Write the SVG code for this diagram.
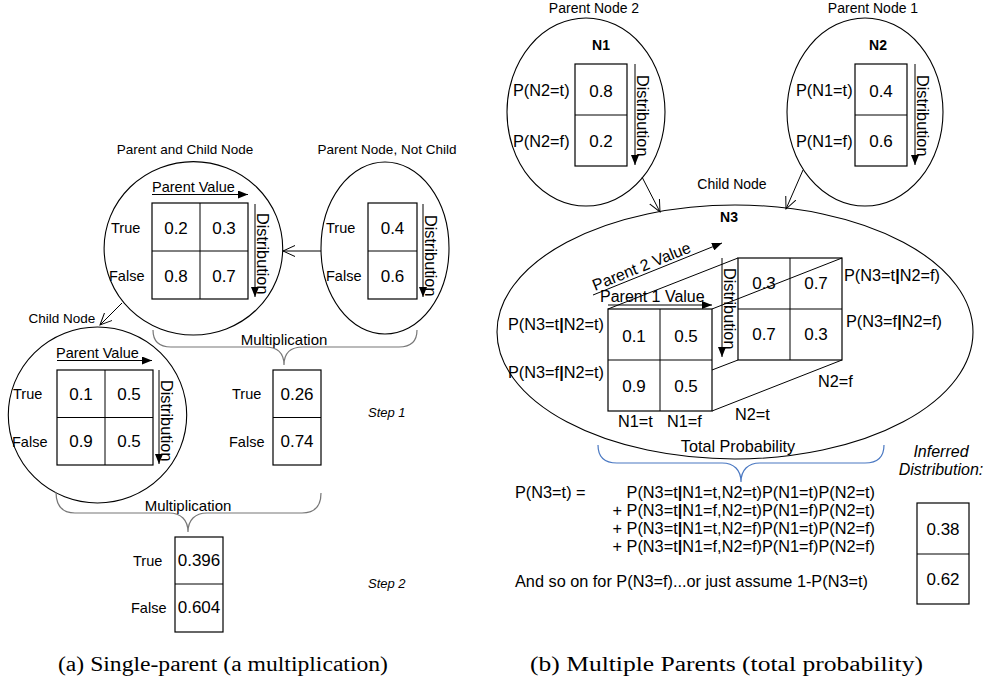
<svg xmlns="http://www.w3.org/2000/svg" width="984" height="695" viewBox="0 0 984 695">
  <style>
    text { font-family: "Liberation Sans", Arial, sans-serif; fill: #000; }
    .ln { fill: none; stroke: #000; stroke-width: 1; }
    .node { fill: none; stroke: #000; stroke-width: 1.1; }
    .cell { fill: none; stroke: #000; stroke-width: 1.2; }
    .num { font-size: 17px; text-anchor: middle; }
    .lbl { font-size: 14.5px; }
    .head { font-size: 13.5px; text-anchor: middle; }
    .pl { font-size: 16.3px; }
    .dist { font-size: 16.3px; }
    .bold { font-weight: bold; }
    .step { font-size: 13px; font-style: italic; }
    .cap { font-family: "Liberation Serif", "Times New Roman", serif; font-size: 20px; }
    .brace { fill: none; stroke: #777; stroke-width: 1.2; }
    .brace.blue { stroke: #4a78c2; }
    .arr { fill: none; stroke: #000; stroke-width: 1; marker-end: url(#tri); }
    .link { fill: none; stroke: #000; stroke-width: 1; marker-end: url(#vee); }
  </style>
  <defs>
    <marker id="tri" markerUnits="userSpaceOnUse" markerWidth="11" markerHeight="8" refX="10" refY="4" orient="auto">
      <path d="M0,0 L10,4 L0,8 z" fill="#000"/>
    </marker>
    <marker id="vee" markerUnits="userSpaceOnUse" markerWidth="14" markerHeight="14" refX="12" refY="7" orient="auto">
      <path d="M0,1.5 L12,7 L0,12.5" fill="none" stroke="#000" stroke-width="1"/>
    </marker>
  </defs>
  <rect width="984" height="695" fill="#fff"/>

  <!-- ===== (a) single parent ===== -->
  <g id="node-parent-child">
    <text class="head" x="185" y="154">Parent and Child Node</text>
    <ellipse class="node" cx="193.4" cy="248.3" rx="89.3" ry="86.7"/>
    <text class="lbl" x="152" y="192">Parent Value</text>
    <line class="arr" x1="152" y1="194.5" x2="248" y2="194.5"/>
    <rect class="cell" x="152" y="203" width="96" height="96"/>
    <line class="ln" x1="200" y1="203" x2="200" y2="299"/>
    <line class="ln" x1="152" y1="251" x2="248" y2="251"/>
    <text class="num" x="176" y="234">0.2</text>
    <text class="num" x="224" y="234">0.3</text>
    <text class="num" x="176" y="282">0.8</text>
    <text class="num" x="224" y="282">0.7</text>
    <text class="lbl" x="111" y="233">True</text>
    <text class="lbl" x="109" y="281">False</text>
    <line class="arr" x1="255" y1="204" x2="255" y2="297"/>
    <text class="dist" transform="translate(256.5,213) rotate(90)">Distribution</text>
  </g>

  <g id="node-parent">
    <text class="head" x="387" y="154">Parent Node, Not Child</text>
    <ellipse class="node" cx="385" cy="248" rx="64" ry="86"/>
    <rect class="cell" x="368" y="203" width="49" height="96"/>
    <line class="ln" x1="368" y1="251" x2="417" y2="251"/>
    <text class="num" x="392.5" y="234">0.4</text>
    <text class="num" x="392.5" y="282">0.6</text>
    <text class="lbl" x="326" y="233">True</text>
    <text class="lbl" x="326" y="281">False</text>
    <line class="arr" x1="423" y1="204" x2="423" y2="297"/>
    <text class="dist" transform="translate(424.5,215) rotate(90)">Distribution</text>
  </g>

  <g id="node-child">
    <text class="head" x="62" y="323">Child Node</text>
    <ellipse class="node" cx="97.5" cy="415" rx="89.2" ry="88"/>
    <text class="lbl" x="56" y="358">Parent Value</text>
    <line class="arr" x1="57" y1="360.5" x2="152" y2="360.5"/>
    <rect class="cell" x="57" y="370" width="96" height="95"/>
    <line class="ln" x1="105" y1="370" x2="105" y2="465"/>
    <line class="ln" x1="57" y1="417.5" x2="153" y2="417.5"/>
    <text class="num" x="81" y="400">0.1</text>
    <text class="num" x="129" y="400">0.5</text>
    <text class="num" x="81" y="447">0.9</text>
    <text class="num" x="129" y="447">0.5</text>
    <text class="lbl" x="13" y="399">True</text>
    <text class="lbl" x="12" y="447">False</text>
    <line class="arr" x1="159" y1="370" x2="159" y2="464"/>
    <text class="dist" transform="translate(160.5,380) rotate(90)">Distribution</text>
  </g>

  <g id="step1-result">
    <rect class="cell" x="273" y="370" width="48" height="95"/>
    <line class="ln" x1="273" y1="417.5" x2="321" y2="417.5"/>
    <text class="num" x="297" y="400">0.26</text>
    <text class="num" x="297" y="447">0.74</text>
    <text class="lbl" x="232" y="399">True</text>
    <text class="lbl" x="229" y="447">False</text>
    <text class="step" x="368" y="417">Step 1</text>
  </g>

  <g id="step2-result">
    <rect class="cell" x="175" y="537" width="48" height="95"/>
    <line class="ln" x1="175" y1="584" x2="223" y2="584"/>
    <text class="num" x="199" y="566">0.396</text>
    <text class="num" x="199" y="613">0.604</text>
    <text class="lbl" x="133" y="566">True</text>
    <text class="lbl" x="131" y="613">False</text>
    <text class="step" x="368" y="588">Step 2</text>
  </g>

  <g id="braces">
    <path class="brace" d="M153,330 C153,341 159,347 171,347 L265,347 C277,347 284,353 284,365 C284,353 291,347 303,347 L399,347 C411,347 417,341 417,330"/>
    <text class="lbl" x="284" y="345" text-anchor="middle" style="font-size:15px">Multiplication</text>
    <path class="brace" d="M56,492 C56,506 62,513 75,513 L169,513 C181,513 188,520 188,532 C188,520 195,513 207,513 L302,513 C315,513 321,506 321,493"/>
    <text class="lbl" x="188" y="511" text-anchor="middle" style="font-size:15px">Multiplication</text>
    <path class="brace blue" d="M598,445 C598,457 604,463 617,463 L722,463 C734,463 741,470 741,482 C741,470 748,463 760,463 L865,463 C878,463 884,457 884,445"/>
    <text x="738" y="452" text-anchor="middle" style="font-size:16.2px">Total Probability</text>
  </g>

  <!-- ===== (b) multiple parents ===== -->
  <g id="node-n1">
    <text class="head" x="594" y="13" style="font-size:14px">Parent Node 2</text>
    <ellipse class="node" cx="586" cy="112" rx="79" ry="94"/>
    <text class="bold" x="601" y="50" text-anchor="middle" style="font-size:14px">N1</text>
    <rect class="cell" x="575" y="64" width="52" height="102"/>
    <line class="ln" x1="575" y1="115" x2="627" y2="115"/>
    <text class="num" x="601" y="97">0.8</text>
    <text class="num" x="601" y="147">0.2</text>
    <text class="pl" x="513" y="96">P(N2=t)</text>
    <text class="pl" x="513" y="147">P(N2=f)</text>
    <line class="arr" x1="635" y1="64" x2="635" y2="165"/>
    <text class="dist" transform="translate(636.5,75) rotate(90)">Distribution</text>
  </g>

  <g id="node-n2">
    <text class="head" x="873" y="13" style="font-size:14px">Parent Node 1</text>
    <ellipse class="node" cx="865" cy="112" rx="78" ry="94"/>
    <text class="bold" x="878" y="50" text-anchor="middle" style="font-size:14px">N2</text>
    <rect class="cell" x="855" y="64" width="52" height="102"/>
    <line class="ln" x1="855" y1="115" x2="907" y2="115"/>
    <text class="num" x="881" y="97">0.4</text>
    <text class="num" x="881" y="147">0.6</text>
    <text class="pl" x="796" y="96">P(N1=t)</text>
    <text class="pl" x="796" y="147">P(N1=f)</text>
    <line class="arr" x1="915" y1="64" x2="915" y2="165"/>
    <text class="dist" transform="translate(916.5,75) rotate(90)">Distribution</text>
  </g>

  <g id="node-n3">
    <text class="head" x="732" y="189" style="font-size:14px">Child Node</text>
    <ellipse class="node" cx="735" cy="332" rx="238" ry="127"/>
    <text class="bold" x="729" y="222" text-anchor="middle" style="font-size:14px">N3</text>
    <!-- back slice: N2=f -->
    <rect class="cell" x="738" y="258" width="104" height="102"/>
    <line class="ln" x1="790" y1="258" x2="790" y2="360"/>
    <line class="ln" x1="738" y1="309" x2="842" y2="309"/>
    <text class="num" x="764" y="289">0.3</text>
    <text class="num" x="816" y="289">0.7</text>
    <text class="num" x="764" y="340">0.7</text>
    <text class="num" x="816" y="340">0.3</text>
    <!-- front slice: N2=t -->
    <rect x="608" y="309" width="104" height="102" fill="#fff"/>
    <rect class="cell" x="608" y="309" width="104" height="102"/>
    <line class="ln" x1="660" y1="309" x2="660" y2="411"/>
    <line class="ln" x1="608" y1="360" x2="712" y2="360"/>
    <text class="num" x="634" y="342">0.1</text>
    <text class="num" x="686" y="342">0.5</text>
    <text class="num" x="634" y="392">0.9</text>
    <text class="num" x="686" y="392">0.5</text>
    <!-- depth edges -->
    <line class="ln" x1="608" y1="309" x2="738" y2="258"/>
    <line class="ln" x1="712" y1="309" x2="842" y2="258"/>
    <line class="ln" x1="712" y1="411" x2="842" y2="360"/>
    <line class="ln" x1="712" y1="370" x2="738" y2="360"/>
    <!-- axis labels -->
    <text class="pl" x="600" y="302" style="font-size:16px">Parent 1 Value</text>
    <line class="arr" x1="608" y1="305" x2="712" y2="305"/>
    <text class="pl" transform="translate(595,291) rotate(-22)" style="font-size:16px">Parent 2 Value</text>
    <line class="arr" x1="593" y1="295" x2="722" y2="243"/>
    <line class="arr" x1="722" y1="258" x2="722" y2="357"/>
    <text class="dist" transform="translate(723.5,268) rotate(90)">Distribution</text>
    <text class="pl" x="508" y="330">P(N3=t<tspan class="bold">|</tspan>N2=t)</text>
    <text class="pl" x="508" y="378">P(N3=f<tspan class="bold">|</tspan>N2=t)</text>
    <text class="pl" x="844" y="281">P(N3=t<tspan class="bold">|</tspan>N2=f)</text>
    <text class="pl" x="846" y="327">P(N3=f<tspan class="bold">|</tspan>N2=f)</text>
    <text class="pl" x="618" y="427">N1=t</text>
    <text class="pl" x="667" y="427">N1=f</text>
    <text class="pl" x="735" y="420">N2=t</text>
    <text class="pl" x="818" y="387">N2=f</text>
  </g>

  <g id="formula">
    <text class="pl" x="515" y="498">P(N3=t) =</text>
    <text class="pl" x="875" y="498" text-anchor="end">P(N3=t<tspan class="bold">|</tspan>N1=t,N2=t)P(N1=t)P(N2=t)</text>
    <text class="pl" x="875" y="516" text-anchor="end">+ P(N3=t<tspan class="bold">|</tspan>N1=f,N2=t)P(N1=f)P(N2=t)</text>
    <text class="pl" x="875" y="534" text-anchor="end">+ P(N3=t<tspan class="bold">|</tspan>N1=t,N2=f)P(N1=t)P(N2=f)</text>
    <text class="pl" x="875" y="552" text-anchor="end">+ P(N3=t<tspan class="bold">|</tspan>N1=f,N2=f)P(N1=f)P(N2=f)</text>
    <text class="pl" x="515" y="587">And so on for P(N3=f)...or just assume 1-P(N3=t)</text>
  </g>

  <g id="inferred">
    <text x="941" y="457" text-anchor="middle" style="font-size:16px;font-style:italic">Inferred</text>
    <text x="941" y="475" text-anchor="middle" style="font-size:16px;font-style:italic">Distribution:</text>
    <rect class="cell" x="917" y="503" width="52" height="101"/>
    <line class="ln" x1="917" y1="554" x2="969" y2="554"/>
    <text class="num" x="943" y="535">0.38</text>
    <text class="num" x="943" y="585">0.62</text>
  </g>

  <g id="connectors">
    <line class="link" x1="321" y1="251" x2="283" y2="251"/>
    <line class="link" x1="122" y1="303" x2="100" y2="325"/>
    <line class="link" x1="642" y1="177" x2="660" y2="212"/>
    <line class="link" x1="803" y1="170" x2="786" y2="209"/>
  </g>

  <g id="captions">
    <text class="cap" x="58" y="671" textLength="330" lengthAdjust="spacingAndGlyphs">(a) Single-parent (a multiplication)</text>
    <text class="cap" x="530" y="671" textLength="393" lengthAdjust="spacingAndGlyphs">(b) Multiple Parents (total probability)</text>
  </g>
</svg>
